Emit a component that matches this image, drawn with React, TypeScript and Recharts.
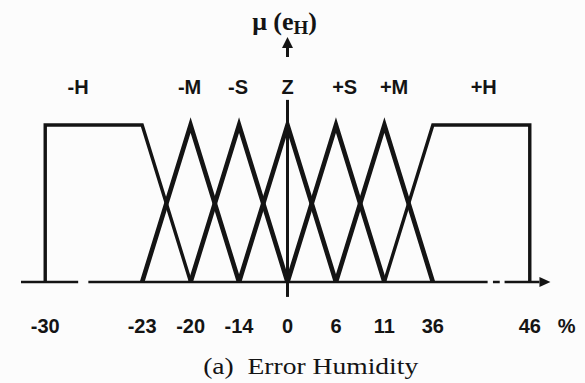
import React from 'react';
import { LineChart, Line, XAxis, YAxis, ReferenceLine, ReferenceDot } from 'recharts';

// Breakpoints sit evenly on the drawing, not by their value, so the x axis
// runs on "slots" and the tick formatter puts the real numbers back.
const tickSlots = [0, 2, 3, 4, 5, 6, 7, 8, 10];
const tickLabels = ['-30', '-23', '-20', '-14', '0', '6', '11', '36', '46'];

const setNames = ['-H', '-M', '-S', 'Z', '+S', '+M', '+H'];
const setLabelSlots = [0.68, 2.98, 3.98, 5, 6.18, 7.2, 9.05];

// membership breakpoints for each fuzzy set: [slot, mu]
const negHigh = [[0, 0], [0, 1], [2, 1], [3, 0]];
const negMed = [[2, 0], [3, 1], [4, 0]];
const negSmall = [[3, 0], [4, 1], [5, 0]];
const zero = [[4, 0], [5, 1], [6, 0]];
const posSmall = [[5, 0], [6, 1], [7, 0]];
const posMed = [[6, 0], [7, 1], [8, 0]];
const posHigh = [[7, 0], [8, 1], [10, 1], [10, 0]];

const sets = [negHigh, negMed, negSmall, zero, posSmall, posMed, posHigh];

// pieces of the broken / dashed x axis line
const baselineSegments = [[-0.5, 0.68], [0.89, 9.13], [9.24, 9.38], [9.48, 10.2]];

const INK = '#141414';
const SANS = '"Liberation Sans", Arial, sans-serif';
const SERIF = '"Liberation Serif", "Times New Roman", serif';

const toPoints = (pts: number[][]) => pts.map(([x, mu]) => ({ x, mu }));

const fmtTick = (v: number) => {
  const i = tickSlots.indexOf(v);
  return i >= 0 ? tickLabels[i] : '';
};

export default function App() {
  return (
    <div style={{ position: 'absolute', left: 0, top: 0, width: 585, height: 383, background: '#fcfcfc' }}>
      <LineChart width={585} height={383} margin={{ top: 125, right: 31, bottom: 41, left: 21 }}>
        <XAxis
          type="number"
          dataKey="x"
          domain={[-0.5, 10.5]}
          ticks={tickSlots}
          tickFormatter={fmtTick}
          interval={0}
          axisLine={false}
          tickLine={false}
          tickSize={0}
          tickMargin={37}
          height={60}
          tick={{ fontSize: 20, fontWeight: 700, fill: INK, fontFamily: SANS }}
        />
        <YAxis type="number" domain={[0, 1]} hide />

        {baselineSegments.map(([a, b], i) => (
          <ReferenceLine
            key={'base' + i}
            segment={[{ x: a, y: 0 }, { x: b, y: 0 }]}
            stroke={INK}
            strokeWidth={2.5}
            ifOverflow="visible"
          />
        ))}
        <ReferenceDot
          x={10.2}
          y={0}
          r={0}
          ifOverflow="visible"
          shape={(p: any) => (
            <path d={`M${p.cx},${p.cy - 5} L${p.cx + 11},${p.cy} L${p.cx},${p.cy + 5} Z`} fill={INK} />
          )}
        />

        {/* membership axis */}
        <ReferenceLine
          segment={[{ x: 5, y: -0.095 }, { x: 5, y: 1.16 }]}
          stroke={INK}
          strokeWidth={3}
          ifOverflow="visible"
        />
        <ReferenceDot
          x={5}
          y={1.433}
          r={0}
          ifOverflow="visible"
          shape={(p: any) => (
            <g>
              <line x1={p.cx} y1={p.cy} x2={p.cx} y2={p.cy - 10} stroke={INK} strokeWidth={3} />
              <path d={`M${p.cx - 5.5},${p.cy - 9} L${p.cx},${p.cy - 20} L${p.cx + 5.5},${p.cy - 9} Z`} fill={INK} />
            </g>
          )}
        />
        <ReferenceDot
          x={4.27}
          y={1.605}
          r={0}
          ifOverflow="visible"
          shape={(p: any) => (
            <text x={p.cx} y={p.cy} fontFamily={SERIF} fontWeight={700} fontSize={26} fill={INK}>
              μ (e
              <tspan fontSize={19} dy={4}>H</tspan>
              <tspan dy={-4}>)</tspan>
            </text>
          )}
        />

        {sets.map((pts, i) => (
          <Line
            key={setNames[i]}
            data={toPoints(pts)}
            dataKey="mu"
            type="linear"
            stroke={INK}
            strokeWidth={i === 0 || i === 6 ? 3.4 : 4.6}
            strokeLinejoin="miter"
            dot={false}
            activeDot={false}
            isAnimationActive={false}
          />
        ))}

        {setNames.map((name, i) => (
          <ReferenceDot
            key={'lbl' + name}
            x={setLabelSlots[i]}
            y={1.2}
            r={0}
            ifOverflow="visible"
            shape={(p: any) => (
              <text x={p.cx} y={p.cy} textAnchor="middle" fontFamily={SANS} fontWeight={700} fontSize={20} fill={INK}>
                {name}
              </text>
            )}
          />
        ))}

        <ReferenceDot
          x={10.76}
          y={-0.325}
          r={0}
          ifOverflow="visible"
          shape={(p: any) => (
            <text x={p.cx} y={p.cy} textAnchor="middle" fontFamily={SANS} fontWeight={700} fontSize={20} fill={INK}>
              %
            </text>
          )}
        />
        <ReferenceDot
          x={3.26}
          y={-0.586}
          r={0}
          ifOverflow="visible"
          shape={(p: any) => (
            <text
              x={p.cx}
              y={p.cy}
              fontFamily={SERIF}
              fontSize={23}
              fill={INK}
              textLength={215}
              lengthAdjust="spacingAndGlyphs"
              xmlSpace="preserve"
            >
              (a)  Error Humidity
            </text>
          )}
        />
      </LineChart>
    </div>
  );
}
